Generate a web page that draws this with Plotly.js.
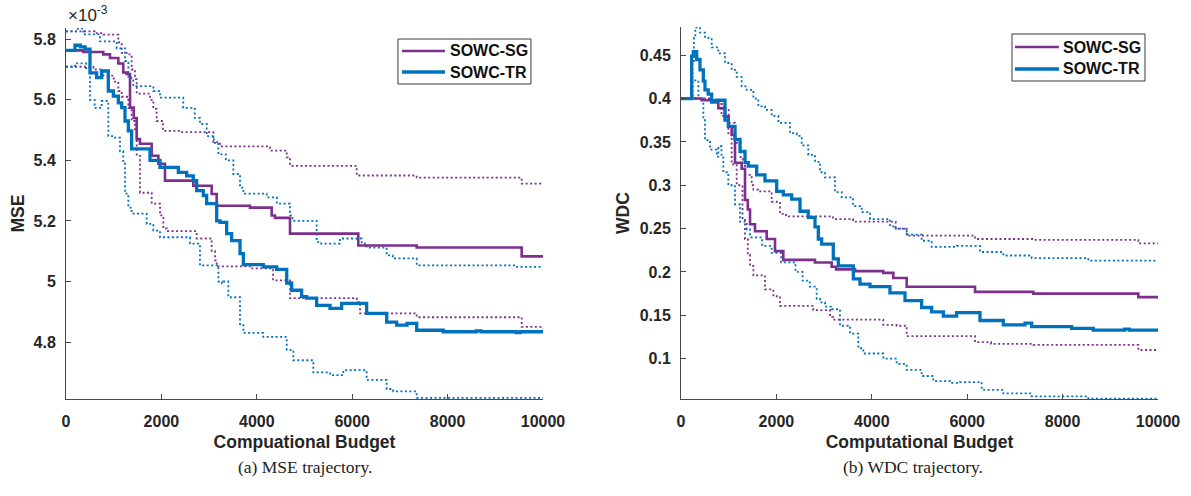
<!DOCTYPE html>
<html>
<head>
<meta charset="utf-8">
<script src="https://cdn.plot.ly/plotly-3.0.1.min.js"></script>
<style>
  html, body { margin: 0; padding: 0; background: #ffffff; }
  #chart { width: 1191px; height: 496px; }
</style>
</head>
<body>
<div id="chart"></div>
<script>
// ---- Budget axis ----
const budgetTicks = [0, 2000, 4000, 6000, 8000, 10000];
const budgetTickText = ['0', '2000', '4000', '6000', '8000', '10000'];

// ---- MSE panel (values in units of 1e-3) ----
const mseTicks = [4.8, 5, 5.2, 5.4, 5.6, 5.8];
const mseTickText = ['4.8', '5', '5.2', '5.4', '5.6', '5.8'];

const mseSgMeanX = [0, 363, 782, 922, 1097, 1200, 1272, 1342, 1420, 1482, 1551, 1796, 1936, 2075, 2669, 3054, 3159, 3857, 4312, 4382, 4696, 6128, 7352, 9553, 10000];
const mseSgMeanY = [5.763, 5.758, 5.75, 5.738, 5.72, 5.69, 5.685, 5.574, 5.54, 5.47, 5.455, 5.415, 5.389, 5.333, 5.316, 5.289, 5.25, 5.244, 5.218, 5.21, 5.158, 5.119, 5.112, 5.083, 5.083];

const mseTrMeanX = [0, 189, 300, 400, 503, 643, 748, 887, 992, 1097, 1167, 1237, 1307, 1376, 1761, 1971, 2355, 2530, 2669, 2739, 2879, 2949, 3159, 3229, 3368, 3473, 3648, 3718, 4136, 4416, 4627, 4731, 4940, 5045, 5255, 5535, 5779, 6303, 6723, 6932, 7150, 7352, 7910, 8600, 8700, 9440, 9520, 10000];
const mseTrMeanY = [5.763, 5.78, 5.775, 5.767, 5.689, 5.673, 5.695, 5.629, 5.612, 5.59, 5.574, 5.53, 5.497, 5.438, 5.40, 5.377, 5.36, 5.349, 5.333, 5.30, 5.284, 5.257, 5.20, 5.195, 5.158, 5.135, 5.092, 5.056, 5.048, 5.04, 4.995, 4.971, 4.95, 4.945, 4.921, 4.911, 4.928, 4.895, 4.866, 4.856, 4.862, 4.839, 4.834, 4.837, 4.834, 4.831, 4.834, 4.834];

const mseSgUpperX = [0, 600, 782, 1097, 1167, 1272, 1376, 1447, 1482, 1761, 1831, 1900, 2034, 2390, 3089, 3228, 4277, 4627, 4696, 6094, 7352, 9553, 10000];
const mseSgUpperY = [5.826, 5.82, 5.815, 5.79, 5.755, 5.75, 5.70, 5.668, 5.62, 5.60, 5.57, 5.53, 5.497, 5.493, 5.46, 5.446, 5.432, 5.41, 5.382, 5.35, 5.343, 5.323, 5.323];

const mseSgLowerX = [0, 573, 782, 1000, 1097, 1167, 1307, 1376, 1447, 1482, 1551, 1796, 1971, 2041, 2110, 2739, 3054, 3124, 3159, 3857, 4340, 4696, 6094, 6164, 7352, 9553, 10000];
const mseSgLowerY = [5.709, 5.70, 5.68, 5.66, 5.629, 5.61, 5.573, 5.53, 5.497, 5.415, 5.293, 5.257, 5.218, 5.175, 5.166, 5.142, 5.10, 5.07, 5.05, 5.043, 5.004, 4.945, 4.933, 4.895, 4.882, 4.85, 4.846];

const mseTrUpperX = [0, 250, 363, 713, 1062, 1237, 1307, 1411, 1831, 1971, 2459, 2700, 2809, 2949, 3100, 3194, 3350, 3508, 3648, 3718, 4207, 4420, 4696, 4750, 5255, 5350, 5744, 6198, 6300, 6723, 6850, 7352, 9448, 10000];
const mseTrUpperY = [5.826, 5.836, 5.816, 5.793, 5.77, 5.728, 5.672, 5.645, 5.629, 5.607, 5.573, 5.54, 5.52, 5.48, 5.458, 5.42, 5.40, 5.355, 5.31, 5.29, 5.278, 5.257, 5.218, 5.20, 5.13, 5.125, 5.142, 5.125, 5.112, 5.086, 5.076, 5.053, 5.048, 5.048];

const mseTrLowerX = [0, 189, 420, 503, 600, 748, 887, 992, 1132, 1200, 1237, 1307, 1376, 1691, 1831, 1971, 2600, 2809, 3194, 3270, 3298, 3403, 3648, 3718, 4136, 4627, 4766, 5185, 5535, 5814, 6303, 6723, 6860, 7352, 10000];
const mseTrLowerY = [5.709, 5.72, 5.705, 5.60, 5.573, 5.596, 5.48, 5.475, 5.43, 5.389, 5.29, 5.244, 5.224, 5.19, 5.168, 5.146, 5.125, 5.053, 5.0, 4.994, 5.0, 4.948, 4.856, 4.83, 4.817, 4.774, 4.74, 4.70, 4.691, 4.707, 4.675, 4.645, 4.637, 4.616, 4.616];

// ---- WDC panel ----
const wdcTicks = [0.1, 0.15, 0.2, 0.25, 0.3, 0.35, 0.4, 0.45];
const wdcTickText = ['0.1', '0.15', '0.2', '0.25', '0.3', '0.35', '0.4', '0.45'];

const wdcSgMeanX = [0, 433, 783, 922, 1000, 1062, 1132, 1272, 1342, 1400, 1447, 1551, 1796, 1971, 2145, 2809, 3159, 3250, 3648, 4241, 4451, 4731, 6164, 7386, 9588, 10000];
const wdcSgMeanY = [0.40, 0.398, 0.389, 0.379, 0.368, 0.358, 0.326, 0.319, 0.283, 0.272, 0.255, 0.247, 0.238, 0.224, 0.214, 0.211, 0.206, 0.203, 0.201, 0.199, 0.193, 0.183, 0.177, 0.175, 0.171, 0.171];

const wdcTrMeanX = [0, 224, 258, 329, 398, 468, 503, 570, 643, 750, 922, 992, 1132, 1237, 1342, 1411, 1586, 1761, 2006, 2145, 2320, 2495, 2669, 2809, 2879, 2949, 3193, 3298, 3613, 3752, 3962, 4381, 4696, 5045, 5255, 5500, 5779, 6268, 6757, 7212, 7352, 8190, 8644, 9300, 9400, 10000];
const wdcTrMeanY = [0.40, 0.449, 0.454, 0.445, 0.433, 0.42, 0.41, 0.405, 0.396, 0.398, 0.375, 0.368, 0.353, 0.339, 0.326, 0.322, 0.312, 0.305, 0.293, 0.289, 0.284, 0.27, 0.263, 0.252, 0.238, 0.232, 0.215, 0.207, 0.192, 0.186, 0.183, 0.176, 0.167, 0.159, 0.154, 0.149, 0.153, 0.144, 0.139, 0.141, 0.137, 0.135, 0.133, 0.134, 0.133, 0.133];

const wdcSgUpperX = [0, 643, 850, 1000, 1132, 1250, 1342, 1482, 1517, 1621, 1900, 2075, 2200, 3186, 3606, 4500, 4731, 6164, 7386, 9588, 10000];
const wdcSgUpperY = [0.40, 0.398, 0.387, 0.372, 0.349, 0.33, 0.312, 0.30, 0.295, 0.293, 0.281, 0.267, 0.264, 0.261, 0.258, 0.25, 0.242, 0.238, 0.237, 0.233, 0.233];

const wdcSgLowerX = [0, 643, 850, 992, 1062, 1167, 1290, 1342, 1400, 1447, 1517, 1761, 1936, 2075, 2774, 3124, 3193, 4241, 4520, 4731, 6164, 6500, 7386, 9588, 10000];
const wdcSgLowerY = [0.40, 0.398, 0.38, 0.36, 0.324, 0.30, 0.26, 0.238, 0.22, 0.207, 0.196, 0.18, 0.172, 0.161, 0.156, 0.148, 0.145, 0.139, 0.138, 0.126, 0.119, 0.117, 0.116, 0.11, 0.11];

const wdcTrUpperX = [0, 240, 270, 300, 398, 503, 643, 783, 922, 1062, 1167, 1272, 1377, 1517, 1621, 1761, 1901, 2041, 2285, 2425, 2530, 2669, 2809, 2914, 3019, 3229, 3369, 3606, 3788, 3962, 4381, 4451, 4731, 5045, 5255, 5779, 6268, 6757, 7352, 8539, 10000];
const wdcTrUpperY = [0.40, 0.44, 0.47, 0.482, 0.476, 0.47, 0.459, 0.452, 0.441, 0.433, 0.425, 0.414, 0.41, 0.40, 0.391, 0.387, 0.38, 0.372, 0.36, 0.357, 0.346, 0.335, 0.327, 0.315, 0.309, 0.292, 0.286, 0.276, 0.269, 0.261, 0.254, 0.25, 0.243, 0.236, 0.229, 0.23, 0.223, 0.219, 0.216, 0.213, 0.213];

const wdcTrLowerX = [0, 240, 363, 468, 503, 608, 748, 783, 850, 887, 992, 1132, 1237, 1377, 1447, 1700, 1900, 2100, 2400, 2550, 2700, 2844, 2914, 3019, 3159, 3333, 3543, 3717, 3822, 4241, 4521, 4731, 5045, 5290, 5640, 5849, 6304, 6757, 7352, 8539, 10000];
const wdcTrLowerY = [0.40, 0.421, 0.40, 0.375, 0.352, 0.341, 0.333, 0.345, 0.335, 0.315, 0.30, 0.278, 0.258, 0.249, 0.24, 0.23, 0.222, 0.211, 0.20, 0.19, 0.183, 0.169, 0.165, 0.16, 0.157, 0.138, 0.129, 0.112, 0.106, 0.10, 0.094, 0.087, 0.08, 0.074, 0.072, 0.073, 0.064, 0.06, 0.0566, 0.054, 0.054];

// ---- series names ----
const seriesNames = ['SOWC-SG', 'SOWC-TR'];

// ---- styling ----
const SG_COLOR = '#7E2F8E';
const TR_COLOR = '#0072BD';
const AXIS_COLOR = '#4a4a4a';
const TEXT_COLOR = '#262626';
const SANS = 'Liberation Sans, Arial, Helvetica, sans-serif';
const SERIF = 'Liberation Serif, Times New Roman, serif';

function bound(x, y, color, xa, ya) {
  return {
    x: x, y: y, xaxis: xa, yaxis: ya, type: 'scatter', mode: 'lines',
    line: { color: color, width: 1.8, dash: '2px,2.5px', shape: 'hv' },
    showlegend: false, hoverinfo: 'skip'
  };
}
function mean(x, y, color, width, name, xa, ya) {
  return {
    x: x, y: y, xaxis: xa, yaxis: ya, type: 'scatter', mode: 'lines', name: name,
    line: { color: color, width: width, shape: 'hv' },
    showlegend: false
  };
}

const SG_WIDTH = 2.6, TR_WIDTH = 3.3;

const traces = [
  bound(mseSgUpperX, mseSgUpperY, SG_COLOR, 'x', 'y'),
  bound(mseSgLowerX, mseSgLowerY, SG_COLOR, 'x', 'y'),
  bound(mseTrUpperX, mseTrUpperY, TR_COLOR, 'x', 'y'),
  bound(mseTrLowerX, mseTrLowerY, TR_COLOR, 'x', 'y'),
  mean(mseSgMeanX, mseSgMeanY, SG_COLOR, SG_WIDTH, seriesNames[0], 'x', 'y'),
  mean(mseTrMeanX, mseTrMeanY, TR_COLOR, TR_WIDTH, seriesNames[1], 'x', 'y'),

  bound(wdcSgUpperX, wdcSgUpperY, SG_COLOR, 'x2', 'y2'),
  bound(wdcSgLowerX, wdcSgLowerY, SG_COLOR, 'x2', 'y2'),
  bound(wdcTrUpperX, wdcTrUpperY, TR_COLOR, 'x2', 'y2'),
  bound(wdcTrLowerX, wdcTrLowerY, TR_COLOR, 'x2', 'y2'),
  mean(wdcSgMeanX, wdcSgMeanY, SG_COLOR, SG_WIDTH, seriesNames[0], 'x2', 'y2'),
  mean(wdcTrMeanX, wdcTrMeanY, TR_COLOR, TR_WIDTH, seriesNames[1], 'x2', 'y2')
];

const tickFont = { family: SANS, size: 16, color: TEXT_COLOR, weight: 'bold' };
const titleFont = { family: SANS, size: 17.5, color: TEXT_COLOR, weight: 'bold' };

function budgetAxis(domain, anchor, titleText) {
  return {
    domain: domain, anchor: anchor, range: [0, 10000],
    tickvals: budgetTicks, ticktext: budgetTickText,
    ticks: 'inside', ticklen: 5, tickwidth: 1, tickcolor: AXIS_COLOR,
    showline: true, linecolor: AXIS_COLOR, linewidth: 1, mirror: false,
    showgrid: false, zeroline: false, automargin: true,
    tickfont: tickFont, ticklabelstandoff: 8,
    title: { text: titleText, font: titleFont, standoff: 6 }
  };
}
function valueAxis(domain, anchor, range, vals, text, titleText, standoff) {
  return {
    domain: domain, anchor: anchor, range: range,
    tickvals: vals, ticktext: text,
    ticks: 'inside', ticklen: 5, tickwidth: 1, tickcolor: AXIS_COLOR,
    showline: true, linecolor: AXIS_COLOR, linewidth: 1, mirror: false,
    showgrid: false, zeroline: false, automargin: true,
    tickfont: tickFont, ticklabelstandoff: 6,
    title: { text: titleText, font: titleFont, standoff: standoff }
  };
}

// Legend boxes: a framed key in the upper right of each panel
function legendKey(x0, x1, y0, y1, lineX0, lineX1, rowY, textX) {
  const shapes = [
    { type: 'rect', xref: 'paper', yref: 'paper', x0: x0, x1: x1, y0: y0, y1: y1,
      fillcolor: '#ffffff', line: { color: '#3a3a3a', width: 1 }, layer: 'above' },
    { type: 'line', xref: 'paper', yref: 'paper', x0: lineX0, x1: lineX1, y0: rowY[0], y1: rowY[0],
      line: { color: SG_COLOR, width: SG_WIDTH }, layer: 'above' },
    { type: 'line', xref: 'paper', yref: 'paper', x0: lineX0, x1: lineX1, y0: rowY[1], y1: rowY[1],
      line: { color: TR_COLOR, width: TR_WIDTH }, layer: 'above' }
  ];
  const notes = seriesNames.map((name, i) => ({
    xref: 'paper', yref: 'paper', x: textX, y: rowY[i], xanchor: 'left', yanchor: 'middle',
    text: name, showarrow: false,
    font: { family: SANS, size: 16, color: '#111111', weight: 'bold' }
  }));
  return { shapes, notes };
}

const keyA = legendKey(0.3040, 0.4258, 0.8468, 0.9677, 0.3077, 0.3471, [0.9355, 0.8790], 0.3497);
const keyB = legendKey(0.8663, 0.9881, 0.8548, 0.9812, 0.8690, 0.9093, [0.9462, 0.8871], 0.9112);

const layout = {
  width: 1191, height: 496,
  margin: { l: 66, r: 33, t: 27, b: 97, pad: 0 },
  paper_bgcolor: '#ffffff', plot_bgcolor: '#ffffff',
  showlegend: false,
  xaxis: budgetAxis([0, 0.43681], 'y', 'Compuational Budget'),
  yaxis: valueAxis([0, 0.9973], 'x', [4.612, 5.837], mseTicks, mseTickText, 'MSE', 4),
  xaxis2: budgetAxis([0.56319, 1], 'y2', 'Computational Budget'),
  yaxis2: valueAxis([0, 1], 'x2', [0.0535, 0.4825], wdcTicks, wdcTickText, 'WDC', 5),
  shapes: keyA.shapes.concat(keyB.shapes),
  annotations: [
    { xref: 'paper', yref: 'paper', x: 0, y: 1.0, xanchor: 'left', yanchor: 'bottom',
      text: '×10<sup>-3</sup>', showarrow: false,
      font: { family: SANS, size: 17, color: TEXT_COLOR } },
    { xref: 'paper', yref: 'paper', x: 0.2189, y: -0.1828, xanchor: 'center', yanchor: 'middle',
      text: '(a) MSE trajectory.', showarrow: false,
      font: { family: SERIF, size: 17.5, color: '#222222' } },
    { xref: 'paper', yref: 'paper', x: 0.7756, y: -0.1828, xanchor: 'center', yanchor: 'middle',
      text: '(b) WDC trajectory.', showarrow: false,
      font: { family: SERIF, size: 17.5, color: '#222222' } }
  ].concat(keyA.notes, keyB.notes)
};

Plotly.newPlot('chart', traces, layout, { displayModeBar: false, staticPlot: true });
</script>
</body>
</html>
